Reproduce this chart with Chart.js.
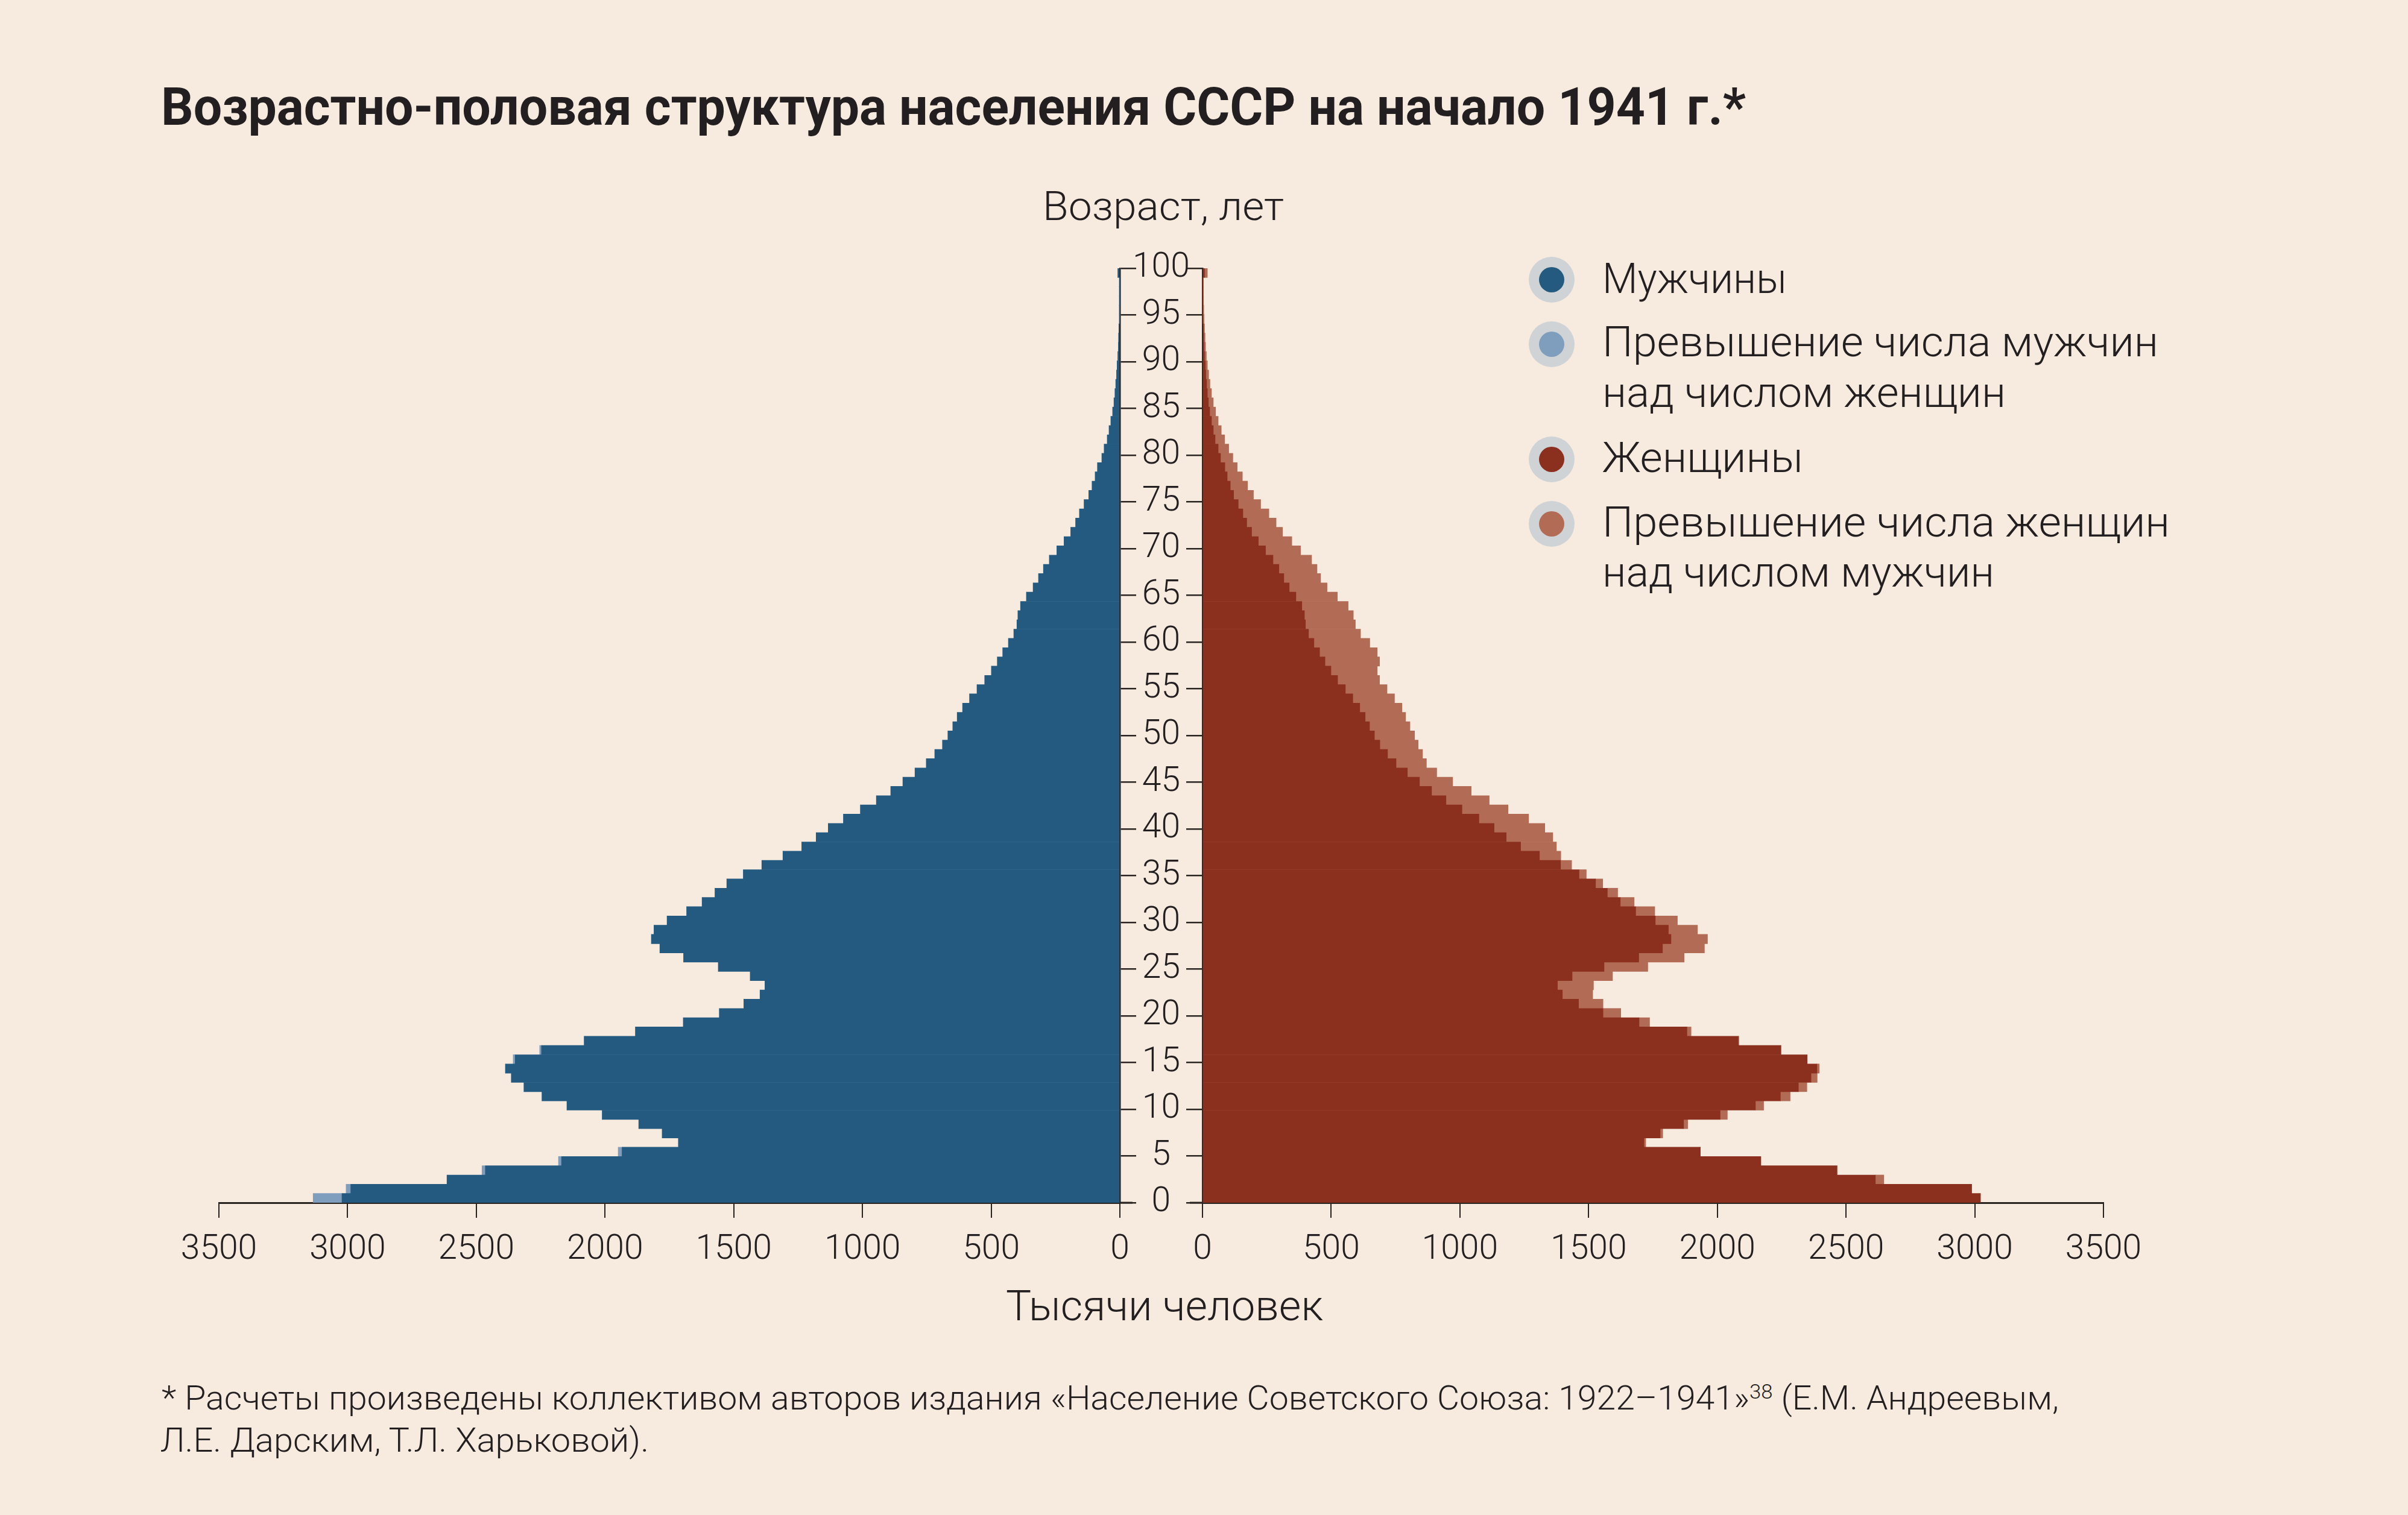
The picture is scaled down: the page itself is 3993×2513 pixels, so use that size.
<!DOCTYPE html>
<html lang="ru">
<head>
<meta charset="utf-8">
<title>Возрастно-половая структура населения СССР на начало 1941 г.</title>
<script src="https://cdn.jsdelivr.net/npm/chart.js@4.4.1/dist/chart.umd.min.js"></script>
<style>
    html, body { margin: 0; padding: 0; }
    body {
        width: 3993px; height: 2513px; position: relative; overflow: hidden;
        background: #f7ebe0; color: #231f20;
        font-family: Roboto, "Noto Sans", sans-serif;
    }
    canvas { position: absolute; }
    .txt { position: absolute; white-space: nowrap; transform-origin: 0 50%; }
    .dot { position: absolute; width: 76px; height: 76px; border-radius: 50%; background: #cfd3d6; }
    .dot span { position: absolute; left: 17px; top: 17px; width: 42px; height: 42px; border-radius: 50%; }
</style>
</head>
<body>
<!-- chart areas: men 363..1857, women 1994..3488, ages 445..1995 -->
<canvas id="menChart" width="1718" height="1745" style="left:279px;top:400px"></canvas>
<canvas id="womenChart" width="1632" height="1745" style="left:1940px;top:400px"></canvas>

<script>
// Age groups (single years, 100 = 100 and older)
const ages = [
    0, 1, 2, 3, 4, 5, 6, 7, 8, 9,
    10, 11, 12, 13, 14, 15, 16, 17, 18, 19,
    20, 21, 22, 23, 24, 25, 26, 27, 28, 29,
    30, 31, 32, 33, 34, 35, 36, 37, 38, 39,
    40, 41, 42, 43, 44, 45, 46, 47, 48, 49,
    50, 51, 52, 53, 54, 55, 56, 57, 58, 59,
    60, 61, 62, 63, 64, 65, 66, 67, 68, 69,
    70, 71, 72, 73, 74, 75, 76, 77, 78, 79,
    80, 81, 82, 83, 84, 85, 86, 87, 88, 89,
    90, 91, 92, 93, 94, 95, 96, 97, 98, 99,
    100
];

// Thousands of people
const men = [
    3134, 3006, 2614, 2478, 2181, 1949, 1715, 1778, 1869, 2011,
    2148, 2245, 2315, 2364, 2387, 2357, 2254, 2081, 1882, 1696,
    1556, 1461, 1398, 1379, 1436, 1560, 1695, 1787, 1820, 1810,
    1759, 1683, 1623, 1573, 1527, 1463, 1391, 1309, 1236, 1180,
    1133, 1074, 1008, 946, 890, 843, 796, 752, 719, 689,
    668, 649, 632, 611, 584, 555, 525, 499, 476, 455,
    433, 412, 400, 396, 386, 363, 337, 316, 297, 274,
    245, 217, 191, 172, 157, 139, 121, 108, 96, 87,
    70, 61, 49, 42, 35, 28, 23, 19, 16, 13,
    11, 8, 6, 5, 4, 2, 2, 1, 1, 1,
    8
];

const women = [
    3022, 2988, 2647, 2465, 2169, 1934, 1722, 1788, 1885, 2039,
    2180, 2283, 2348, 2388, 2396, 2349, 2247, 2084, 1898, 1737,
    1625, 1556, 1516, 1519, 1593, 1730, 1871, 1950, 1962, 1923,
    1845, 1757, 1677, 1613, 1555, 1491, 1434, 1392, 1375, 1361,
    1330, 1267, 1187, 1114, 1044, 972, 910, 870, 855, 838,
    824, 806, 789, 775, 746, 717, 688, 679, 688, 679,
    650, 614, 594, 586, 566, 524, 484, 459, 445, 424,
    381, 347, 311, 286, 258, 226, 198, 175, 155, 135,
    118, 102, 86, 73, 61, 51, 42, 35, 29, 24,
    19, 15, 12, 10, 8, 6, 5, 4, 3, 2,
    19
];

const seriesLabels = [
    'Мужчины',
    'Превышение числа мужчин над числом женщин',
    'Женщины',
    'Превышение числа женщин над числом мужчин'
];

const BLUE = '#245a80';
const BLUE_LIGHT = '#7f9dbc';
const RED = '#8b2f1e';
const RED_LIGHT = '#b26c56';
const INK = '#231f20';
const AXIS = '#2a2421';

// common part of both sexes, and the excess of one over the other
const common = ages.map((a, i) => Math.min(men[i], women[i]));
const menExcess = ages.map((a, i) => Math.max(men[i] - women[i], 0));
const womenExcess = ages.map((a, i) => Math.max(women[i] - men[i], 0));

const tickFont = { family: 'Roboto', size: 57, weight: 300 };

function barSet(label, data, color) {
    return {
        label: label,
        data: data,
        backgroundColor: color,
        borderWidth: 0,
        barPercentage: 1,
        categoryPercentage: 1,
        xAxisID: 'x',
        yAxisID: 'y'
    };
}

function valueAxis(reverse) {
    return {
        type: 'linear',
        min: 0,
        max: 3500,
        reverse: reverse,
        stacked: true,
        ticks: {
            stepSize: 500,
            font: tickFont,
            color: INK,
            padding: 20,
            maxRotation: 0,
            autoSkip: false,
            callback: v => String(v)
        },
        grid: { drawOnChartArea: false, tickLength: 25, color: AXIS, lineWidth: 2 },
        border: { display: true, color: AXIS, width: 3 },
        afterFit: scale => { scale.height = 150; }
    };
}

function ageAxis(position, showLabels) {
    return {
        type: 'linear',
        axis: 'y',
        position: position,
        offset: false,
        min: 0,
        max: 100,
        ticks: {
            display: showLabels,
            stepSize: 5,
            maxTicksLimit: 30,
            font: tickFont,
            color: INK,
            padding: -6,
            crossAlign: 'center',
            callback: v => String(v)
        },
        grid: { offset: false, drawOnChartArea: false, tickLength: 27, color: AXIS, lineWidth: 2.5 },
        border: { display: true, color: AXIS, width: 2.5 },
        afterFit: scale => { if (showLabels) scale.width = 140; }
    };
}

// the value axis line runs a little past zero into the middle gap
const axisStub = {
    id: 'axisStub',
    afterDraw(chart, args, opts) {
        const { ctx, chartArea, scales } = chart;
        const y = scales.x.top;
        const x0 = opts.side === 'right' ? chartArea.right : chartArea.left - 21;
        ctx.save();
        ctx.fillStyle = AXIS;
        ctx.fillRect(x0, y - 1.5, 21, 3);
        ctx.restore();
    }
};

function makeChart(id, datasets, reverse, agePos, showAgeLabels, padding, stubSide) {
    return new Chart(document.getElementById(id), {
        type: 'bar',
        data: { labels: ages, datasets: datasets },
        options: {
            indexAxis: 'y',
            responsive: false,
            animation: false,
            devicePixelRatio: 1,
            layout: { padding: padding },
            plugins: {
                legend: { display: false },
                tooltip: { enabled: false },
                axisStub: { side: stubSide }
            },
            scales: {
                x: valueAxis(reverse),
                y: { type: 'category', reverse: true, stacked: true, display: false },
                yAge: ageAxis(agePos, showAgeLabels)
            }
        },
        plugins: [axisStub]
    });
}

// end tick labels need half their width plus tick padding (64 + 20)
makeChart('menChart', [
    barSet(seriesLabels[0], common, BLUE),
    barSet(seriesLabels[1], menExcess, BLUE_LIGHT)
], true, 'right', true, { left: 84, top: 45, right: 0, bottom: 0 }, 'right');

makeChart('womenChart', [
    barSet(seriesLabels[2], common, RED),
    barSet(seriesLabels[3], womenExcess, RED_LIGHT)
], false, 'left', false, { left: 27, top: 45, right: 84, bottom: 0 }, 'left');

// Text placed by baseline; width is matched to the original layout
function addText(html, x, baseline, size, weight, width, align) {
    const el = document.createElement('div');
    el.className = 'txt';
    el.innerHTML = html;
    el.style.fontSize = size + 'px';
    el.style.lineHeight = size + 'px';
    el.style.fontWeight = weight;
    el.style.top = (baseline - 0.842 * size) + 'px';
    document.body.appendChild(el);
    const w = el.getBoundingClientRect().width;
    const k = width ? width / w : 1;
    const left = align === 'center' ? x - (w * k) / 2 : x;
    el.style.left = left + 'px';
    el.style.transform = 'scaleX(' + k + ')';
    return el;
}

function addDot(cx, cy, color) {
    const d = document.createElement('div');
    d.className = 'dot';
    d.style.left = (cx - 38) + 'px';
    d.style.top = (cy - 38) + 'px';
    const s = document.createElement('span');
    s.style.background = color;
    d.appendChild(s);
    document.body.appendChild(d);
}

addText('Возрастно-половая структура населения СССР на начало 1941 г.*', 267, 207, 88, 700, 2628);
addText('Возраст, лет', 1929, 365, 67, 300, 400, 'center');
addText('Тысячи человек', 1931, 2190, 70, 300, 526, 'center');

// legend
addDot(2573, 464, BLUE);
addText('Мужчины', 2657, 486, 70, 300, 306);
addDot(2573, 571, BLUE_LIGHT);
addText('Превышение числа мужчин', 2657, 591, 70, 300, 922);
addText('над числом женщин', 2657, 675, 70, 300, 669);
addDot(2573, 762, RED);
addText('Женщины', 2657, 783, 70, 300, 333);
addDot(2573, 869, RED_LIGHT);
addText('Превышение числа женщин', 2657, 890, 70, 300, 941);
addText('над числом мужчин', 2657, 973, 70, 300, 650);

// footnote
addText('* Расчеты произведены коллективом авторов издания «Население Советского Союза: 1922–1941»' +
    '<sup style="font-size:34px;vertical-align:18px;line-height:0">38</sup> (Е.М. Андреевым,',
    268, 2338, 56, 300, 3146);
addText('Л.Е. Дарским, Т.Л. Харьковой).', 266, 2408, 56, 300, 810);
</script>
</body>
</html>
